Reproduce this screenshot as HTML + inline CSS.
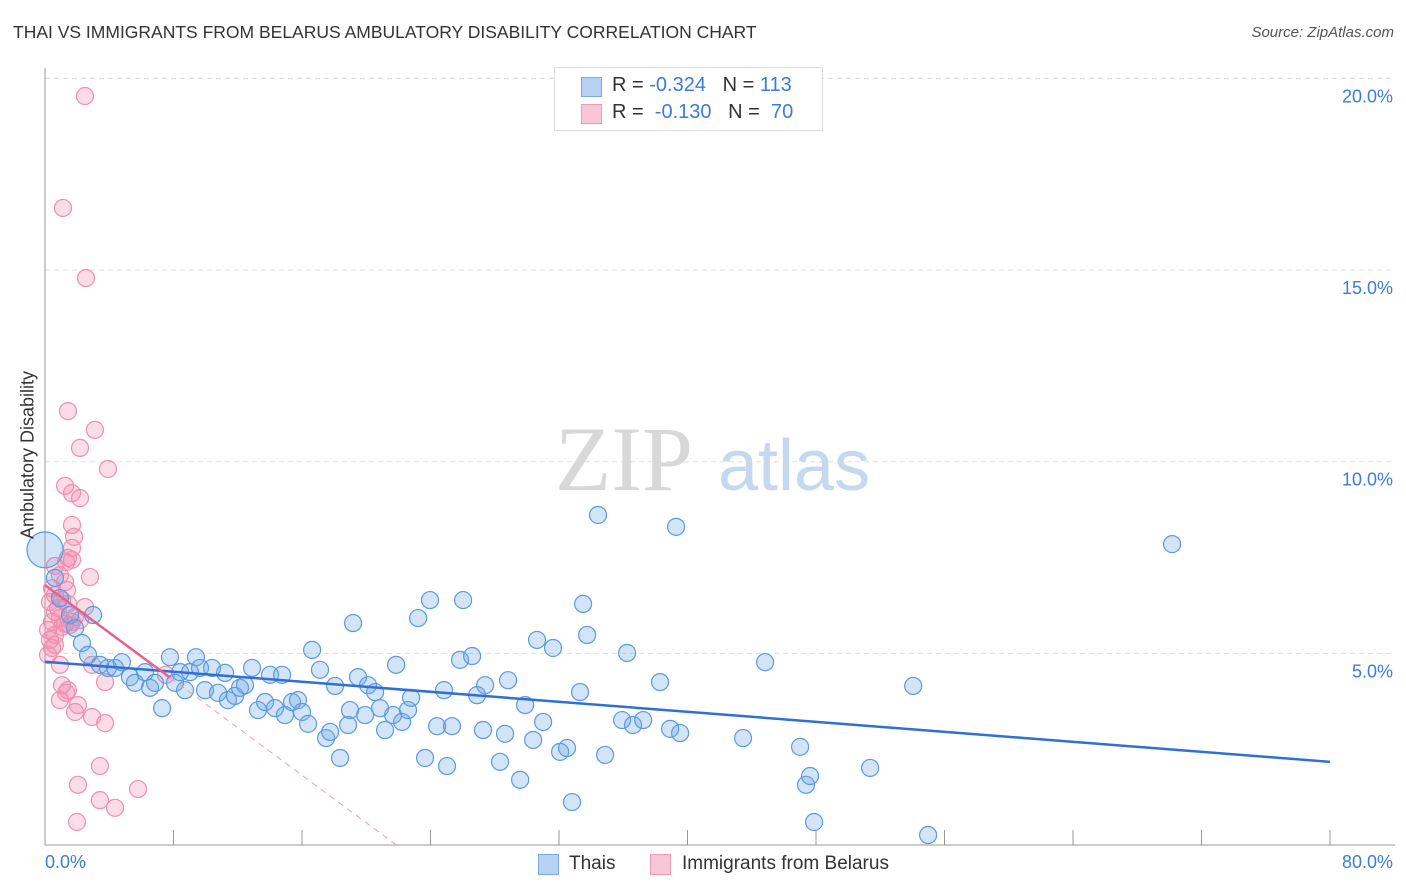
<!DOCTYPE html>
<html><head><meta charset="utf-8"><style>
body{margin:0;background:#fff;font-family:"Liberation Sans",sans-serif;}
#wrap{position:relative;width:1406px;height:892px;overflow:hidden;}
.t{position:absolute;white-space:nowrap;}
</style></head><body>
<div id="wrap">
<div class="t" style="left:13px;top:22px;font-size:17.5px;color:#333;">THAI VS IMMIGRANTS FROM BELARUS AMBULATORY DISABILITY CORRELATION CHART</div>
<div class="t" style="right:12px;top:24px;font-size:15px;color:#555;font-style:italic;">Source: ZipAtlas.com</div>
<svg id="chart" width="1406" height="892" style="position:absolute;left:0;top:0"></svg>
</div>
<script>
const blueX=[0.0,0.62,0.93,1.56,1.87,2.30,2.99,2.68,3.42,3.92,4.36,4.79,5.29,5.60,6.23,6.54,6.85,7.29,7.78,8.09,8.41,8.72,9.03,9.40,9.65,9.96,10.40,10.77,11.21,11.39,11.83,12.14,12.45,12.89,13.26,13.70,14.01,14.32,14.76,14.94,15.38,15.75,16.00,16.38,16.63,17.12,17.50,17.75,18.06,18.37,18.87,18.99,19.18,19.49,19.93,20.11,20.55,20.86,21.17,21.67,21.86,22.23,22.60,22.79,23.23,23.66,23.97,24.41,24.84,25.03,25.34,25.84,26.03,26.59,26.90,27.27,27.40,28.33,28.64,28.83,29.58,29.89,30.39,30.63,31.01,31.63,32.07,32.50,32.81,33.31,33.50,33.75,34.43,34.87,35.93,36.24,36.61,37.24,38.29,38.92,39.29,39.54,43.46,44.83,47.01,47.38,47.63,47.88,51.37,54.05,54.98,70.17];
const blueY=[7.70,6.97,6.44,6.00,5.66,5.27,6.00,4.96,4.70,4.62,4.62,4.77,4.38,4.23,4.51,4.10,4.23,3.57,4.90,4.23,4.51,4.04,4.51,4.90,4.62,4.04,4.62,3.97,4.49,3.78,3.89,4.10,4.17,4.62,3.52,3.73,4.44,3.57,4.44,3.39,3.73,3.78,3.47,3.16,5.09,4.57,2.79,2.95,4.15,2.27,3.13,3.52,5.79,4.38,3.39,4.17,3.99,3.57,3.00,3.39,4.70,3.21,3.52,3.84,5.92,2.27,6.39,3.10,4.04,2.06,3.10,4.83,6.39,4.93,3.91,3.00,4.17,2.17,2.90,4.30,1.70,3.65,2.74,5.35,3.21,5.14,2.43,2.53,1.12,3.99,6.29,5.48,8.61,2.35,3.26,5.01,3.13,3.26,4.25,3.03,8.30,2.92,2.79,4.77,2.56,1.57,1.80,0.60,2.01,4.15,0.26,7.85];
const pinkX=[2.49,1.12,2.55,1.43,3.11,2.18,3.92,1.25,1.68,2.18,1.68,1.81,1.68,1.43,1.31,1.68,0.62,2.80,0.93,1.25,0.44,1.37,0.62,1.06,0.31,2.49,0.62,0.93,0.44,1.25,1.56,0.19,0.62,0.31,0.44,0.19,0.93,2.93,3.74,1.06,1.43,0.93,1.31,1.87,2.05,2.93,3.74,3.42,2.05,3.42,5.79,4.36,1.99,7.53,1.06,1.68,0.81,2.18,0.62,1.43,1.87];
const pinkY=[19.54,16.62,14.79,11.32,10.83,10.36,9.81,9.37,9.18,9.05,8.35,8.04,7.75,7.49,7.38,7.44,7.28,6.99,7.04,6.86,6.70,6.65,6.52,6.39,6.34,6.21,6.08,5.92,5.82,5.77,5.74,5.61,5.48,5.35,5.14,4.96,4.70,4.70,4.25,4.17,4.04,3.78,3.97,3.47,3.65,3.34,3.18,2.06,1.57,1.17,1.46,0.97,0.60,4.44,5.69,5.82,6.18,5.87,5.22,6.29,5.95];
const blueTrend=[4.78,2.17]; // y at x=0 and x=80
const pinkTrend=[6.78,-0.31]; // intercept, slope
const yTicks=[5,10,15,20];
const yTickLabels=["5.0%","10.0%","15.0%","20.0%"];
const xTickVals=[0,8,16,24,32,40,48,56,64,72,80];

const svg=document.getElementById('chart');
const NS='http://www.w3.org/2000/svg';
const X=v=>45+v*16.0625, Y=v=>845-v*38.33;
function mk(tag,attrs,parent){const e=document.createElementNS(NS,tag);for(const k in attrs)e.setAttribute(k,attrs[k]);(parent||svg).appendChild(e);return e;}
// grid
yTicks.forEach((t,i)=>{
 const g=mk('line',{x1:45,x2:1395,y1:Y(t),y2:Y(t),stroke:'#ddd','stroke-dasharray':'5,4'});
 
 
 const tx=mk('text',{x:1393,y:Y(t)+24,'text-anchor':'end','font-size':18,fill:'#3b7dd8','font-family':'Liberation Sans, sans-serif'});
 tx.textContent=yTickLabels[i];
 
 
});
mk('line',{x1:45,x2:1395,y1:Y(20),y2:Y(20),stroke:'#ddd','stroke-dasharray':'5,4'});
// axes
const ya=mk('line',{x1:45,x2:45,y1:68,y2:845,stroke:'#999'});


const xa=mk('line',{x1:45,x2:1395,y1:845,y2:845,stroke:'#999'});


xTickVals.forEach(v=>{const t=mk('line',{x1:X(v),x2:X(v),y1:830,y2:845,stroke:'#999'});
 
 });
// watermark
const wm=mk('text',{x:555,y:490,'font-size':92,fill:'#d8d8d8','font-family':'Liberation Serif, serif'});wm.textContent='ZIP';


const wm2=mk('text',{x:718,y:490,'font-size':72,fill:'#c6d8ef','font-family':'Liberation Sans, sans-serif'});wm2.textContent='atlas';


// points
pinkX.forEach((v,i)=>{const c=mk('circle',{cx:X(v),cy:Y(pinkY[i]),r:8.5,fill:'rgba(242,140,175,0.3)',stroke:'#ef8fae','stroke-width':1.2});
 
 });
blueX.forEach((v,i)=>{const c=mk('circle',{cx:X(v),cy:Y(blueY[i]),r:i===0?18:8.5,fill:'rgba(110,165,230,0.3)',stroke:'#5a9ae2','stroke-width':1.2});
 
 });
// trends
const bt=mk('line',{x1:X(0),y1:Y(blueTrend[0]),x2:X(80),y2:Y(blueTrend[1]),stroke:'#2f6fd6','stroke-width':2.5});


const pe=-pinkTrend[0]/pinkTrend[1];
const pt=mk('line',{x1:X(0),y1:Y(pinkTrend[0]),x2:X(7.8),y2:Y(pinkTrend[0]+pinkTrend[1]*7.8),stroke:'#e8608c','stroke-width':2.5});


const pd=mk('line',{x1:X(7.8),y1:Y(pinkTrend[0]+pinkTrend[1]*7.8),x2:X(pe),y2:Y(0),stroke:'#e8a0b8','stroke-width':1,'stroke-dasharray':'6,5'});


</script>
<div class="t" style="left:28px;top:455px;font-size:18px;color:#333;transform:translate(-50%,-50%) rotate(-90deg);">Ambulatory Disability</div>
<div class="t" style="left:45px;top:852px;font-size:18px;color:#3b7dd8;">0.0%</div>
<div class="t" style="right:13px;top:852px;font-size:18px;color:#3b7dd8;">80.0%</div>
<div style="position:absolute;left:554px;top:67px;width:267px;height:62px;border:1px solid #ddd;background:#fff;font-size:20px;">
 <div style="position:absolute;left:26px;top:9px;width:19px;height:18px;background:#b7d2f4;border:1px solid #7aaae6"></div>
 <div class="t" style="left:57px;top:6px;color:#333">R = <span style="color:#3b7dd8">-0.324</span>&nbsp;&nbsp;&nbsp;N = <span style="color:#3b7dd8">113</span></div>
 <div style="position:absolute;left:26px;top:36px;width:19px;height:18px;background:#f9c6d6;border:1px solid #ef9ab6"></div>
 <div class="t" style="left:57px;top:33px;color:#333">R = &nbsp;<span style="color:#3b7dd8">-0.130</span>&nbsp;&nbsp;&nbsp;N = &nbsp;<span style="color:#3b7dd8">70</span></div>
</div>
<div style="position:absolute;left:538px;top:854px;">
 <div style="position:absolute;left:0;top:0;width:19px;height:19px;background:#b7d2f4;border:1px solid #7aaae6"></div>
 <div class="t" style="left:31px;top:-1px;font-size:19px;color:#333">Thais</div>
</div>
<div style="position:absolute;left:650px;top:854px;">
 <div style="position:absolute;left:0;top:0;width:19px;height:19px;background:#f9c6d6;border:1px solid #ef9ab6"></div>
 <div class="t" style="left:32px;top:-1px;font-size:19px;color:#333">Immigrants from Belarus</div>
</div>
</body></html>
